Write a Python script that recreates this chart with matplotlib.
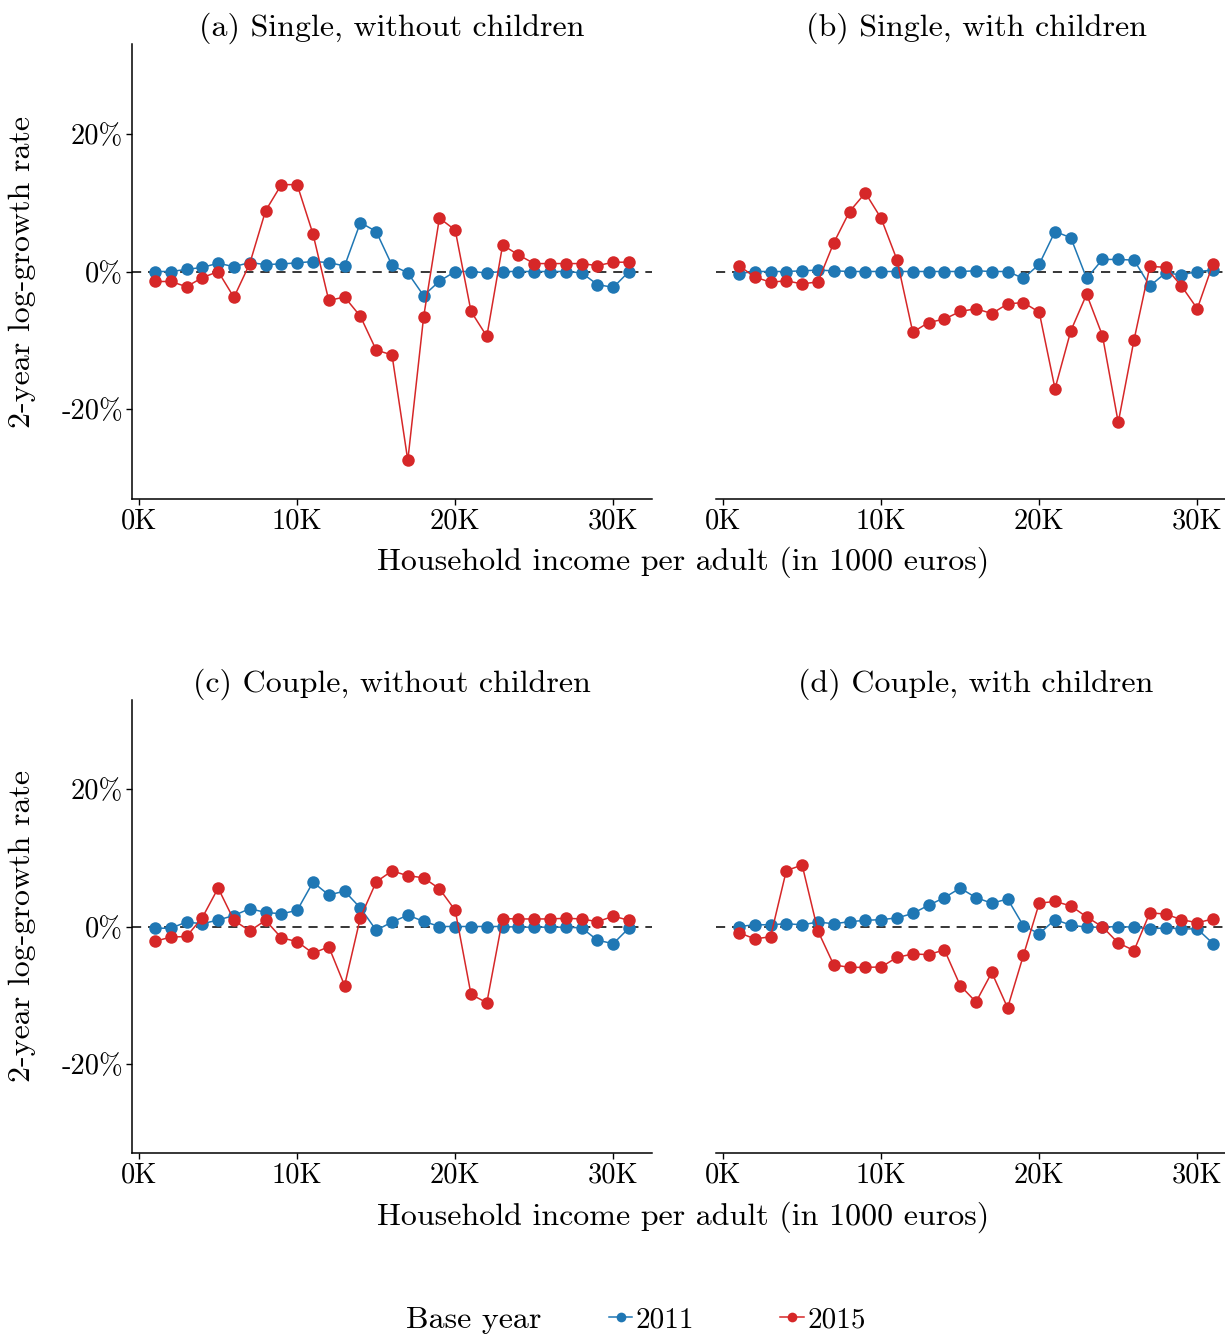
import matplotlib
matplotlib.use("Agg")
import matplotlib.pyplot as plt
from matplotlib.lines import Line2D

plt.rcParams["font.family"] = "serif"
plt.rcParams["font.serif"] = ["cmr10", "DejaVu Serif"]
plt.rcParams["mathtext.fontset"] = "cm"
plt.rcParams["axes.unicode_minus"] = False

# income per adult, in thousand euros
income = list(range(1, 32))

# 2-year log-growth rates (%) by household type and base year
single_nochild_2011 = [0.0, 0.0, 0.3, 0.6, 1.2, 0.7, 1.3, 1.0, 1.1, 1.25, 1.45, 1.3, 0.8,
                       7.1, 5.8, 0.9, -0.2, -3.5, -1.4, 0.0, 0.0, -0.2, 0.0, 0.0, 0.0,
                       0.0, 0.0, -0.2, -1.9, -2.3, 0.0]
single_nochild_2015 = [-1.45, -1.45, -2.2, -0.9, 0.0, -3.75, 1.15, 8.8, 12.6, 12.6, 5.45,
                       -4.2, -3.7, -6.5, -11.4, -12.1, -27.4, -6.6, 7.75, 6.0, -5.8, -9.4,
                       3.85, 2.4, 1.15, 1.15, 1.15, 1.15, 0.85, 1.35, 1.35]

single_child_2011 = [-0.3, 0.0, 0.0, 0.0, 0.1, 0.2, 0.1, 0.0, 0.0, 0.0, 0.0, 0.0, 0.0,
                     0.0, 0.0, 0.1, 0.0, 0.0, -1.0, 1.05, 5.8, 4.9, -1.0, 1.75, 1.75,
                     1.65, -2.1, -0.2, -0.5, 0.0, 0.2]
single_child_2015 = [0.85, -0.8, -1.55, -1.35, -1.8, -1.5, 4.15, 8.7, 11.4, 7.7, 1.7,
                     -8.8, -7.4, -6.9, -5.8, -5.4, -6.1, -4.7, -4.5, -5.9, -17.0, -8.6,
                     -3.3, -9.3, -21.9, -9.9, 0.75, 0.6, -2.1, -5.4, 1.15]

couple_nochild_2011 = [-0.25, -0.25, 0.65, 0.4, 0.95, 1.6, 2.6, 2.05, 1.85, 2.35, 6.45,
                       4.6, 5.15, 2.7, -0.55, 0.65, 1.65, 0.75, 0.0, 0.0, 0.0, 0.0, 0.0,
                       -0.1, -0.1, -0.1, -0.1, -0.2, -2.0, -2.5, -0.2]
couple_nochild_2015 = [-2.15, -1.55, -1.45, 1.3, 5.6, 0.9, -0.65, 0.9, -1.65, -2.2,
                       -3.9, -2.95, -8.6, 1.3, 6.5, 8.1, 7.4, 7.1, 5.5, 2.35, -9.9,
                       -11.1, 1.15, 1.1, 1.1, 1.1, 1.2, 1.1, 0.7, 1.5, 0.9]

couple_child_2011 = [0.0, 0.25, 0.25, 0.4, 0.25, 0.65, 0.4, 0.7, 0.9, 1.0, 1.25, 1.9,
                     3.1, 4.2, 5.6, 4.2, 3.4, 4.0, 0.1, -1.05, 1.0, 0.2, -0.1, -0.1,
                     0.0, -0.1, -0.35, -0.2, -0.35, -0.35, -2.5]
couple_child_2015 = [-0.9, -1.8, -1.5, 8.15, 8.95, -0.65, -5.6, -5.95, -5.95, -5.9,
                     -4.5, -4.0, -4.1, -3.4, -8.6, -11.0, -6.7, -11.85, -4.2, 3.4, 3.65,
                     3.0, 1.4, -0.05, -2.4, -3.5, 2.0, 1.8, 1.0, 0.55, 1.1]

panel_titles = ["(a) Single, without children", "(b) Single, with children",
                "(c) Couple, without children", "(d) Couple, with children"]
panel_series = [
    (single_nochild_2011, single_nochild_2015),
    (single_child_2011, single_child_2015),
    (couple_nochild_2011, couple_nochild_2015),
    (couple_child_2011, couple_child_2015),
]
base_years = ["2011", "2015"]
x_ticks = [0, 10, 20, 30]
x_tick_labels = ["0K", "10K", "20K", "30K"]
y_ticks = [-20, 0, 20]
y_tick_labels = ["-20%", "0%", "20%"]

colors = ["#1f77b4", "#d62728"]

W, H = 1225, 1336
fig = plt.figure(figsize=(W / 100, H / 100), dpi=100)


def rect(left, top, right, bottom):
    return [left / W, 1 - bottom / H, (right - left) / W, (bottom - top) / H]


boxes = [
    rect(132, 44, 652, 499),
    rect(716, 44, 1236, 499),
    rect(132, 700, 652, 1153),
    rect(716, 700, 1236, 1153),
]

tick_fs = 20.5
label_fs = 23
legend_fs = 21

for i, (box, title, series) in enumerate(zip(boxes, panel_titles, panel_series)):
    ax = fig.add_axes(box)
    ax.axhline(0, color="black", lw=1.1, ls=(0, (6, 4.5)), zorder=1)
    for vals, col in zip(series, colors):
        ax.plot(income, vals, color=col, lw=1.1, marker="o", ms=9,
                markeredgewidth=0, zorder=3)
    ax.set_xlim(-0.45, 32.45)
    ax.set_ylim(-33, 33)
    ax.set_xticks(x_ticks)
    ax.set_xticklabels(x_tick_labels, fontsize=tick_fs)
    left_col = i % 2 == 0
    if left_col:
        ax.set_yticks(y_ticks)
        ax.set_yticklabels(y_tick_labels, fontsize=tick_fs)
        ax.set_ylabel("2-year log-growth rate", fontsize=label_fs, labelpad=18)
    else:
        ax.set_yticks([])
        ax.spines["left"].set_visible(False)
    ax.tick_params(length=4.5, width=1.0, color="black", pad=2)
    for side in ("top", "right"):
        ax.spines[side].set_visible(False)
    for side in ("left", "bottom"):
        ax.spines[side].set_linewidth(1.1)
    ax.set_title(title, fontsize=label_fs, pad=6)

for y_px in (562, 1217):
    fig.text(683 / W, 1 - y_px / H, "Household income per adult (in 1000 euros)",
             ha="center", va="center", fontsize=label_fs)

fig.text(474 / W, 1 - 1320 / H, "Base year", ha="center", va="center", fontsize=label_fs)
handles = [Line2D([], [], color=c, lw=1.1, marker="o", ms=7, markeredgewidth=0)
           for c in colors]
fig.legend(handles, base_years, loc="center left", bbox_to_anchor=(609 / W, 1 - 1320 / H),
           ncol=2, frameon=False, fontsize=legend_fs, handlelength=0.8,
           handletextpad=0.12, columnspacing=2.95, borderpad=0, borderaxespad=0)

fig.savefig("out.png", dpi=100)
